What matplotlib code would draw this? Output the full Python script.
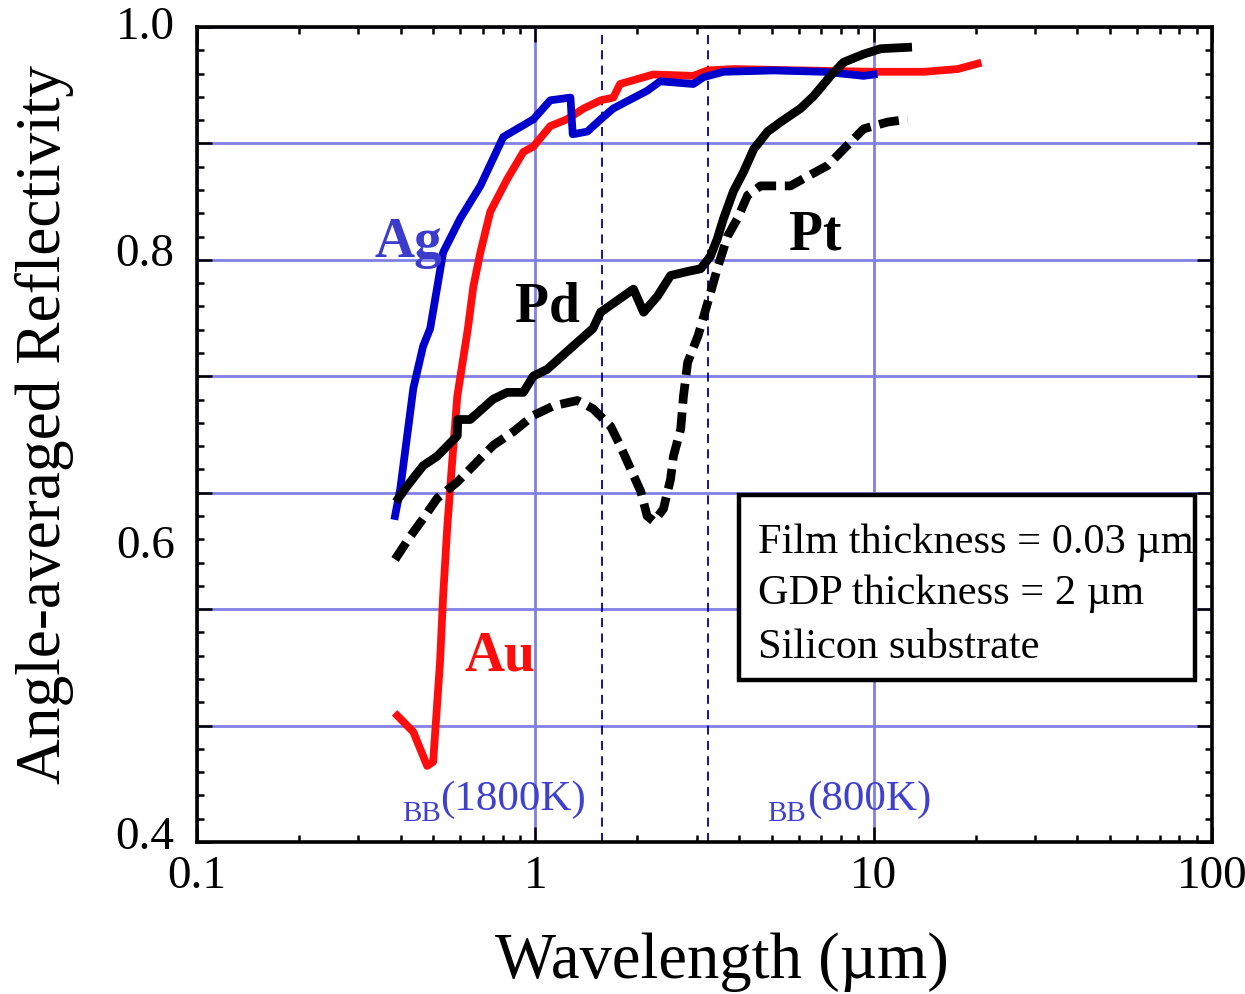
import numpy as np
import matplotlib
matplotlib.use("Agg")
import matplotlib.pyplot as plt
from matplotlib.patches import Rectangle
from matplotlib.ticker import FixedLocator, NullFormatter, LogLocator

plt.rcParams['font.family'] = ['Liberation Serif', 'DejaVu Serif']

# Ag (silver)
ag_wl = [0.385, 0.399, 0.436, 0.466, 0.489, 0.534, 0.600, 0.688, 0.804, 0.987, 1.107,
         1.27, 1.29, 1.425, 1.56, 1.70, 2.14, 2.34, 2.93, 3.14, 3.60, 5.06, 7.11, 8.55, 9.34, 10.0]
ag_r = [0.640, 0.660, 0.734, 0.765, 0.778, 0.834, 0.859, 0.883, 0.919, 0.932, 0.946,
        0.948, 0.921, 0.923, 0.932, 0.940, 0.953, 0.960, 0.958, 0.963, 0.967, 0.968, 0.967, 0.965, 0.964, 0.965]

# Au (gold)
au_wl = [0.391, 0.436, 0.479, 0.499, 0.523, 0.534, 0.549, 0.568, 0.588, 0.632, 0.656, 0.688,
         0.736, 0.826, 0.922, 0.987, 1.107, 1.24, 1.39, 1.56, 1.70, 1.78, 2.23, 2.93, 3.23,
         3.85, 6.08, 10.0, 14.1, 17.7, 20.3]
au_r = [0.493, 0.481, 0.456, 0.459, 0.533, 0.581, 0.631, 0.680, 0.728, 0.778, 0.809, 0.834,
        0.864, 0.888, 0.908, 0.912, 0.927, 0.932, 0.940, 0.946, 0.948, 0.958, 0.965, 0.964, 0.968,
        0.969, 0.968, 0.967, 0.967, 0.969, 0.973]

# Pd solid black
pd_wl = [0.394, 0.418, 0.466, 0.513, 0.588, 0.590, 0.642, 0.751, 0.826, 0.922, 0.987, 1.085,
         1.24, 1.48, 1.56, 1.95, 2.09, 2.30, 2.51, 2.82, 3.08, 3.29, 3.45, 3.60, 3.85, 4.12,
         4.42, 4.86, 5.31, 6.08, 6.64, 7.46, 8.15, 9.34, 10.5, 12.6]
pd_r = [0.653, 0.662, 0.677, 0.684, 0.699, 0.711, 0.711, 0.726, 0.731, 0.731, 0.743, 0.748,
        0.761, 0.778, 0.790, 0.807, 0.790, 0.802, 0.817, 0.820, 0.822, 0.831, 0.844, 0.859, 0.879, 0.893,
        0.910, 0.923, 0.930, 0.940, 0.949, 0.964, 0.974, 0.980, 0.984, 0.985]

# Pt dashed black
pt_wl = [0.385, 0.427, 0.466, 0.513, 0.588, 0.656, 0.751, 0.861, 0.987, 1.13, 1.33, 1.48,
         1.67, 1.78, 1.91, 2.05, 2.14, 2.24, 2.39, 2.51, 2.56, 2.69, 2.74, 2.82, 3.03, 3.24,
         3.45, 3.70, 3.96, 4.24, 4.63, 5.68, 6.38, 7.31, 8.15, 9.34, 11.0, 12.6]
pt_r = [0.608, 0.625, 0.638, 0.653, 0.665, 0.677, 0.692, 0.702, 0.714, 0.721, 0.725, 0.719,
        0.706, 0.692, 0.675, 0.658, 0.640, 0.636, 0.645, 0.667, 0.684, 0.704, 0.728, 0.753, 0.773, 0.798,
        0.822, 0.846, 0.859, 0.876, 0.883, 0.883, 0.890, 0.898, 0.910, 0.925, 0.930, 0.932]

bb_wl = [1.574, 3.245]
bb_labels = ['(1800K)', '(800K)']

ytick_text = ['1.0', '0.8', '0.6', '0.4']
box_lines = ['Film thickness = 0.03 \u00b5m', 'GDP thickness = 2 \u00b5m', 'Silicon substrate']

fig = plt.figure(figsize=(12.45, 9.95), dpi=100)
ax = fig.add_axes([0.1582, 0.1528, 0.8153, 0.8191])

ax.plot(ag_wl, ag_r, color='#0000CC', lw=5.6, zorder=4)
ax.plot(au_wl, au_r, color='#FF0D0D', lw=5.6, zorder=3)
ax.plot(pd_wl, pd_r, color='black', lw=6.3, zorder=5)
ax.plot(pt_wl, pt_r, color='black', lw=6.3, ls=(0, (2.3, 1.0)), dash_capstyle='butt', zorder=5)

for w in bb_wl:
    ax.axvline(w, color='#000099', lw=1.3, ls=(0, (5, 3.5)), zorder=2)

ax.set_xscale('log')
ax.set_xlim(0.1, 100)
ax.set_ylim(0.4, 1.0)

ax.yaxis.set_major_locator(FixedLocator(np.linspace(0.4, 1.0, 8)))
ax.yaxis.set_minor_locator(FixedLocator(np.linspace(0.4, 1.0, 36)))
ax.yaxis.set_major_formatter(NullFormatter())
ax.xaxis.set_minor_locator(LogLocator(base=10, subs=np.arange(2, 10)))
ax.xaxis.set_minor_formatter(NullFormatter())
ax.set_xticks([0.1, 1, 10, 100])
ax.set_xticklabels(['0.1', '1', '10', '100'])

ax.tick_params(which='both', direction='in', top=True, right=True, width=1.8, color='black')
ax.tick_params(which='major', length=11)
ax.tick_params(which='minor', length=5)
ax.tick_params(axis='x', labelsize=34, pad=9)
for s in ax.spines.values():
    s.set_linewidth(2.6)

ax.grid(True, which='major', color='#8080E6', lw=2.0)
ax.set_axisbelow(True)

# y labels sit where the original put them
for t, yf in zip(ytick_text, [1.0, 0.7215, 0.363, 0.006]):
    ax.text(-0.022, yf, t, transform=ax.transAxes, ha='right', va='center', fontsize=34)

ax.set_xlabel('Wavelength (\u00b5m)', fontsize=46.5, va='center')
ax.xaxis.set_label_coords(0.517, -0.146)
ax.set_ylabel('Angle-averaged Reflectivity', fontsize=45.5, va='center')
ax.yaxis.set_label_coords(-0.150, 0.513)

ax.text(0.421, 0.842, 'Ag', color='#3C3CCC', fontsize=40, fontweight='bold', ha='center', va='center', zorder=6)
ax.text(1.085, 0.794, 'Pd', color='black', fontsize=40, fontweight='bold', ha='center', va='center', zorder=6)
ax.text(6.74, 0.847, 'Pt', color='black', fontsize=40, fontweight='bold', ha='center', va='center', zorder=6)
ax.text(0.788, 0.537, 'Au', color='#FF0D0D', fontsize=40, fontweight='bold', ha='center', va='center', zorder=6)

for lab, xs, xl in zip(bb_labels, [0.405, 4.86], [0.523, 6.38]):
    ax.text(xs, 0.421, 'BB', color='#4040D0', fontsize=21, ha='left', va='center')
    ax.text(xl, 0.432, lab, color='#4040D0', fontsize=31, ha='left', va='center')

ax.add_patch(Rectangle((0.534, 0.199), 0.449, 0.227, transform=ax.transAxes,
                       facecolor='white', edgecolor='black', lw=3.2, zorder=7))
for t, yf in zip(box_lines, [0.368, 0.3055, 0.239]):
    ax.text(0.553, yf, t, transform=ax.transAxes, fontsize=30.5, ha='left', va='center', zorder=8)

fig.savefig('out.png', dpi=100)
